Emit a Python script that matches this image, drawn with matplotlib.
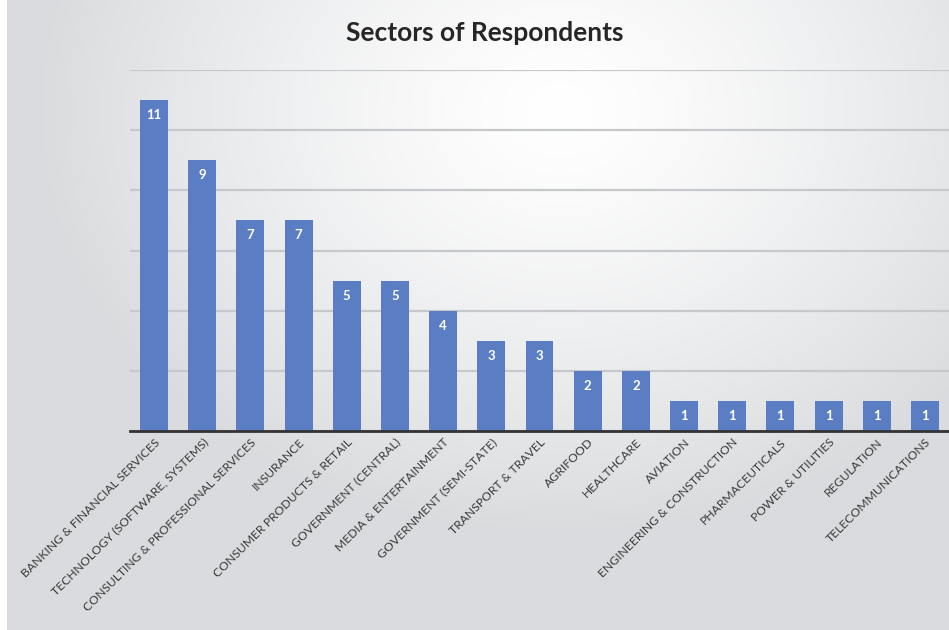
import numpy as np
import matplotlib.pyplot as plt

sectors = [
    "BANKING & FINANCIAL SERVICES",
    "TECHNOLOGY (SOFTWARE, SYSTEMS)",
    "CONSULTING & PROFESSIONAL SERVICES",
    "INSURANCE",
    "CONSUMER PRODUCTS & RETAIL",
    "GOVERNMENT (CENTRAL)",
    "MEDIA & ENTERTAINMENT",
    "GOVERNMENT (SEMI-STATE)",
    "TRANSPORT & TRAVEL",
    "AGRIFOOD",
    "HEALTHCARE",
    "AVIATION",
    "ENGINEERING & CONSTRUCTION",
    "PHARMACEUTICALS",
    "POWER & UTILITIES",
    "REGULATION",
    "TELECOMMUNICATIONS",
]
respondents = [11, 9, 7, 7, 5, 5, 4, 3, 3, 2, 2, 1, 1, 1, 1, 1, 1]

bar_color = "#5b7dc3"

fig = plt.figure(figsize=(9.49, 6.3), dpi=100)

# soft radial background, brightest near the top centre
bg = fig.add_axes([0, 0, 1, 1], zorder=-10)
yy, xx = np.mgrid[0:630, 0:949]
r = np.sqrt(((xx - 560) / 520.0) ** 2 + ((yy - 110) / 420.0) ** 2)
t = np.clip(r, 0, 1) ** 1.3
base = np.array([0.855, 0.862, 0.872])
img = (1 - t)[..., None] * np.ones(3) + t[..., None] * base
img[:, :7] = 1.0
bg.imshow(img, aspect="auto", extent=[0, 1, 0, 1], origin="upper")
bg.axis("off")

ax = fig.add_axes([130 / 949, (630 - 431) / 630, 819 / 949, 361 / 630])
ax.patch.set_alpha(0)
x = np.arange(len(sectors))
bars = ax.bar(x, respondents, width=0.58, color=bar_color, zorder=3)

for b, v in zip(bars, respondents):
    ax.text(b.get_x() + b.get_width() / 2, v - 0.3, str(v), ha="center", va="top",
            color="white", fontsize=9.5, fontweight="bold", family="Lato", zorder=4)

ax.set_xlim(-0.5, len(sectors) - 0.5)
ax.set_ylim(0, 12)
ax.set_yticks(np.arange(0, 13, 2))
ax.yaxis.grid(True, color="#c6c8cb", linewidth=1.6, zorder=0)
ax.tick_params(axis="y", left=False, labelleft=False)
ax.tick_params(axis="x", length=0, pad=4)
for side in ["top", "right", "left"]:
    ax.spines[side].set_visible(False)
ax.spines["bottom"].set_color("#333333")
ax.spines["bottom"].set_linewidth(2)
ax.spines["bottom"].set_zorder(5)

ax.set_xticks(x)
ax.set_xticklabels(sectors, rotation=45, ha="right", rotation_mode="anchor",
                   fontsize=8.7, color="#3a3a3a", family="Lato")

fig.text(0.511, 0.948, "Sectors of Respondents", ha="center", va="center",
         fontsize=19, fontweight="bold", color="#262626", family="Lato")

fig.savefig("out.png", dpi=100)
